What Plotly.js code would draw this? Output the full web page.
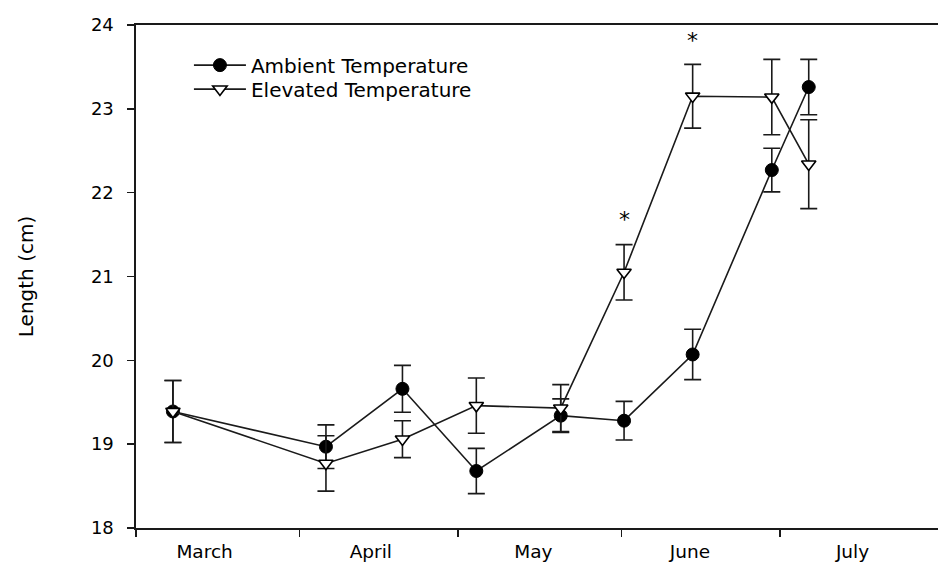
<!DOCTYPE html>
<html>
<head>
<meta charset="utf-8">
<script src="https://cdn.plot.ly/plotly-3.0.1.min.js"></script>
<style>html,body{margin:0;padding:0;background:#fff;}#chart{width:938px;height:565px;}</style>
</head>
<body>
<div id="chart"></div>
<script>
// Sampling days, counted from 1 March
const sampleDays = [7, 36, 50.5, 64.5, 80.5, 92.5, 105.5, 120.5, 127.5];

// Ambient temperature: mean length (cm) and error
const ambientMean = [19.39, 18.97, 19.66, 18.68, 19.34, 19.28, 20.07, 22.27, 23.26];
const ambientErr  = [0.37, 0.26, 0.28, 0.27, 0.20, 0.23, 0.30, 0.26, 0.33];

// Elevated temperature: mean length (cm) and error
const elevatedMean = [19.39, 18.77, 19.06, 19.46, 19.43, 21.05, 23.15, 23.14, 22.34];
const elevatedErr  = [0.37, 0.33, 0.22, 0.33, 0.28, 0.33, 0.38, 0.45, 0.53];

// Significance markers
const sigDays = [92.5, 105.5];
const sigY    = [21.71, 23.85];

// Month boundaries (days from 1 March) and month labels
const monthStarts = [0, 31, 61, 92, 122];
const monthLabelDays = [13, 44.5, 75.3, 105, 135.8];
const monthNames = ["March", "April", "May", "June", "July"];

const yTicks = [18, 19, 20, 21, 22, 23, 24];

const FONT = "DejaVu Sans";
const INK = "#1a1a1a";

const ambient = {
  x: sampleDays, y: ambientMean, name: "Ambient Temperature", legend: "legend",
  type: "scatter", mode: "lines+markers",
  line: {color: INK, width: 1.6},
  marker: {symbol: "circle", size: 13, color: "#000", line: {color: "#000", width: 1}},
  error_y: {type: "data", array: ambientErr, visible: true, color: INK, thickness: 1.6, width: 8.5},
  cliponaxis: false
};
const elevated = {
  x: sampleDays, y: elevatedMean, name: "Elevated Temperature", legend: "legend2",
  type: "scatter", mode: "lines+markers",
  line: {color: INK, width: 1.6},
  marker: {symbol: "triangle-down", size: 12.5, color: "#fff", line: {color: "#000", width: 1.6}},
  error_y: {type: "data", array: elevatedErr, visible: true, color: INK, thickness: 1.6, width: 8.5},
  cliponaxis: false
};

const annotations = sigDays.map((d, i) => ({
  x: d, y: sigY[i], xref: "x", yref: "y", text: "*", showarrow: false,
  font: {family: FONT, size: 22, color: "#000"}, yshift: -3
}));

const legendStyle = (yTop) => ({
  x: 0.066, y: yTop, xanchor: "left", yanchor: "top",
  font: {family: FONT, size: 20, color: "#000"},
  bgcolor: "rgba(0,0,0,0)", borderwidth: 0,
  tracegroupgap: 0, itemwidth: 52
});

const layout = {
  width: 938, height: 565,
  margin: {l: 136, r: 0, t: 25, b: 37.4, pad: 0},
  paper_bgcolor: "#fff", plot_bgcolor: "#fff",
  font: {family: FONT, color: "#000"},
  showlegend: true,
  legend: legendStyle(0.959),
  legend2: legendStyle(0.9113),
  xaxis: {
    range: [0, 152], showgrid: false, zeroline: false,
    showline: true, linecolor: INK, linewidth: 1.6, mirror: true,
    tickmode: "array", tickvals: monthLabelDays, ticktext: monthNames,
    ticks: "", ticklabelstandoff: 6,
    tickfont: {family: FONT, size: 18.5, color: "#000"},
    minor: {tickmode: "array", tickvals: monthStarts, ticks: "outside", ticklen: 7, tickwidth: 1.6, tickcolor: INK, showgrid: false},
    fixedrange: true
  },
  yaxis: {
    range: [18, 24], showgrid: false, zeroline: false,
    showline: true, linecolor: INK, linewidth: 1.6, mirror: false,
    tickmode: "array", tickvals: yTicks,
    ticks: "outside", ticklen: 7, tickwidth: 1.6, tickcolor: INK,
    ticklabelstandoff: 10,
    tickfont: {family: FONT, size: 18, color: "#000"},
    title: {text: "Length (cm)", font: {family: FONT, size: 20, color: "#000"}, standoff: 52},
    automargin: false, fixedrange: true
  },
  annotations: annotations
};

Plotly.newPlot("chart", [ambient, elevated], layout, {displayModeBar: false, staticPlot: true});
</script>
</body>
</html>
